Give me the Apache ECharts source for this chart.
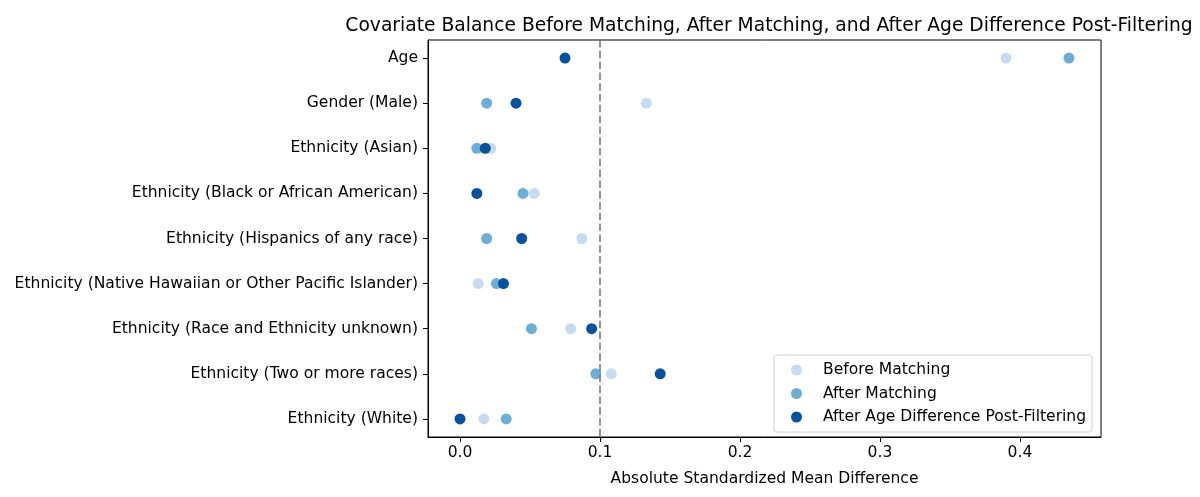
<!DOCTYPE html>
<html lang="en">
<head>
    <meta charset="UTF-8">
    <title>Covariate Balance</title>
    <script src="https://cdn.jsdelivr.net/npm/echarts@6/dist/echarts.min.js"></script>
    <style>
        html, body { margin: 0; padding: 0; background: #fff; }
    </style>
</head>
<body>
<div id="main" style="width: 1200px;height:497px;"></div>
<script>
    var covariates = ['Age', 'Gender (Male)', 'Ethnicity (Asian)', 'Ethnicity (Black or African American)',
        'Ethnicity (Hispanics of any race)', 'Ethnicity (Native Hawaiian or Other Pacific Islander)',
        'Ethnicity (Race and Ethnicity unknown)', 'Ethnicity (Two or more races)', 'Ethnicity (White)'];
    var beforeMatching = [0.390, 0.133, 0.022, 0.053, 0.087, 0.013, 0.079, 0.108, 0.017];
    var afterMatching = [0.435, 0.019, 0.012, 0.045, 0.019, 0.026, 0.051, 0.097, 0.033];
    var afterFiltering = [0.075, 0.040, 0.018, 0.012, 0.044, 0.031, 0.094, 0.143, 0.000];
    var xTicks = [0.0, 0.1, 0.2, 0.3, 0.4];
    var threshold = 0.1;

    var colors = ['#c6dbef', '#6baed6', '#08519c'];
    var font = 'DejaVu Sans';
    var fs = 15.55;

    function toPoints(arr) {
        return arr.map(function (v, i) { return [v, i]; });
    }

    var myChart = echarts.init(document.getElementById('main'));
    var option = {
        animation: false,
        color: colors,
        textStyle: { fontFamily: font },
        title: {
            text: 'Covariate Balance Before Matching, After Matching, and After Age Difference Post-Filtering',
            left: 764,
            textAlign: 'center',
            top: 12,
            textStyle: { fontFamily: font, fontSize: 18.7, fontWeight: 'normal', color: '#000' }
        },
        legend: {
            orient: 'vertical',
            left: 774,
            top: 355,
            padding: [7, 6, 7, 17],
            itemGap: 7.5,
            itemWidth: 11,
            itemHeight: 11,
            backgroundColor: 'rgba(255,255,255,0.8)',
            borderColor: '#d0d0d0',
            borderWidth: 1,
            borderRadius: 3,
            textStyle: { fontFamily: font, fontSize: fs, color: '#000', padding: [0, 0, 0, 16] },
            data: [
                { name: 'Before Matching', icon: 'circle' },
                { name: 'After Matching', icon: 'circle' },
                { name: 'After Age Difference Post-Filtering', icon: 'circle' }
            ]
        },
        grid: {
            left: 428,
            right: 99,
            top: 40,
            bottom: 60,
            show: true,
            borderColor: '#000',
            borderWidth: 1
        },
        xAxis: {
            type: 'value',
            min: -0.0229,
            max: 0.4579,
            name: 'Absolute Standardized Mean Difference',
            nameLocation: 'middle',
            nameGap: 34,
            nameTextStyle: { fontFamily: font, fontSize: fs, color: '#000' },
            splitLine: { show: false },
            axisLine: { show: true, onZero: false, lineStyle: { color: '#000' } },
            axisTick: { show: true, length: 5, customValues: xTicks, lineStyle: { color: '#000' } },
            axisLabel: {
                customValues: xTicks,
                fontFamily: font, fontSize: fs, color: '#000', margin: 8,
                formatter: function (v) { return v.toFixed(1); }
            }
        },
        yAxis: {
            type: 'value',
            min: -0.4,
            max: 8.4,
            inverse: true,
            splitLine: { show: false },
            axisLine: { show: true, onZero: false, lineStyle: { color: '#000' } },
            axisTick: { show: true, length: 5, customValues: [0, 1, 2, 3, 4, 5, 6, 7, 8], lineStyle: { color: '#000' } },
            axisLabel: {
                customValues: [0, 1, 2, 3, 4, 5, 6, 7, 8],
                fontFamily: font, fontSize: fs, color: '#000', margin: 10,
                formatter: function (v) { return covariates[Math.round(v)]; }
            }
        },
        series: [
            {
                name: 'Before Matching',
                type: 'scatter',
                symbolSize: 11,
                itemStyle: { opacity: 1 },
                data: toPoints(beforeMatching),
                markLine: {
                    silent: true,
                    symbol: 'none',
                    label: { show: false },
                    lineStyle: { color: '#707070', type: [7.5, 3.3], width: 1.5 },
                    data: [{ xAxis: threshold }]
                }
            },
            {
                name: 'After Matching',
                type: 'scatter',
                symbolSize: 11,
                itemStyle: { opacity: 1 },
                data: toPoints(afterMatching)
            },
            {
                name: 'After Age Difference Post-Filtering',
                type: 'scatter',
                symbolSize: 11,
                itemStyle: { opacity: 1 },
                data: toPoints(afterFiltering)
            }
        ]
    };
    myChart.setOption(option);
</script>
</body>
</html>
